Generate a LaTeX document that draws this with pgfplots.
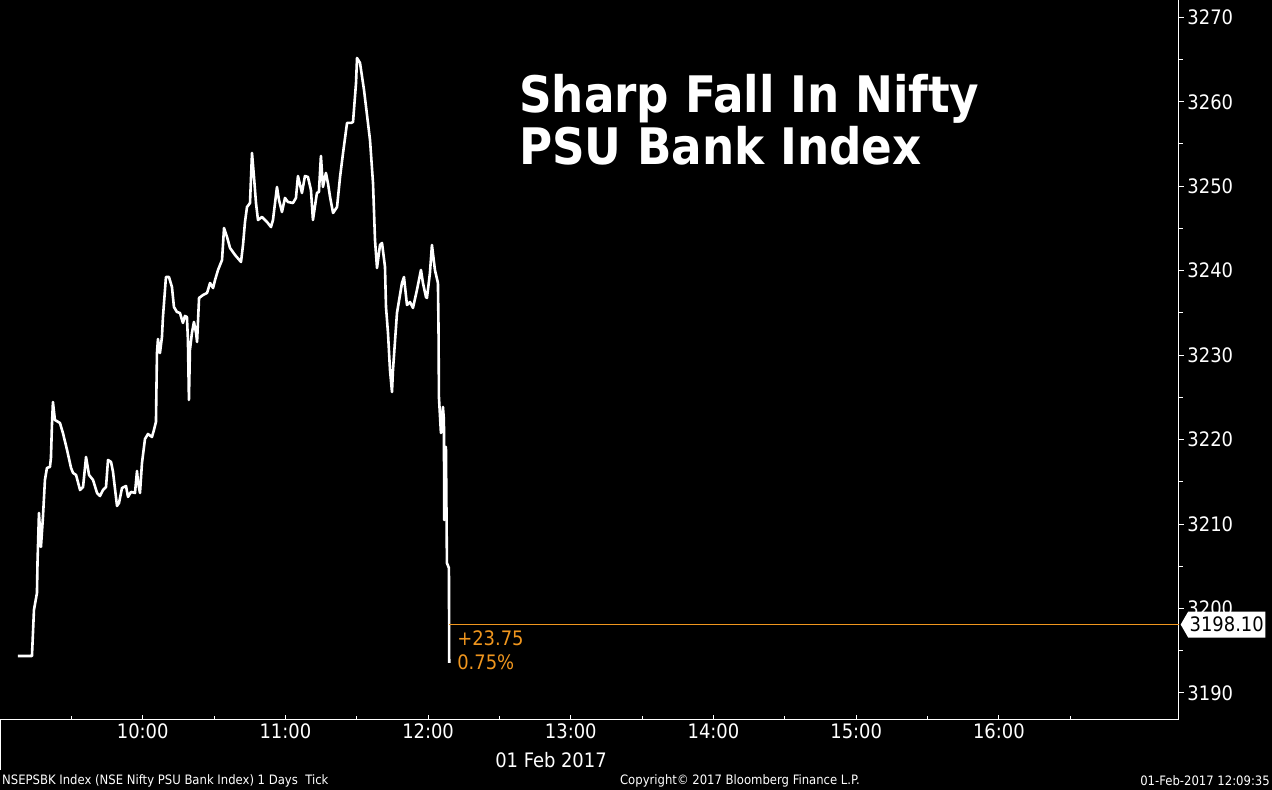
\documentclass[border=0pt]{standalone}
\usepackage{fontspec}
\setmainfont{DejaVu Sans Condensed}
\usepackage{pgfplots}
\pgfplotsset{compat=1.18}
\usetikzlibrary{shapes.symbols}
\definecolor{bbgorange}{RGB}{240,150,30}

\begin{document}
\begin{tikzpicture}[x=1bp,y=1bp]
\fill[black] (0,0) rectangle (1272,790);
\useasboundingbox (0,0) rectangle (1272,790);
\begin{axis}[
    at={(0bp,70bp)}, anchor=south west,
    width=1179bp, height=720bp, scale only axis,
    xmin=9.0, xmax=17.262,
    ymin=3186.8, ymax=3272.05,
    axis x line=bottom, axis y line=right,
    axis line style={white, line width=1bp, -},
    xtick align=inside, ytick align=outside,
    major tick length=5bp, minor tick length=4bp,
    tick style={white, line width=1bp},
    xtick={10,11,...,16},
    xticklabels={10:00,11:00,12:00,13:00,14:00,15:00,16:00},
    minor xtick={9.5,10.5,...,16.5},
    ytick={3190,3200,...,3270},
    minor ytick={3195,3205,...,3265},
    xticklabel style={text=white, font=\fontsize{20}{20}\selectfont},
    yticklabel style={text=white, font=\fontsize{20}{20}\selectfont},
    /pgf/number format/.cd, set thousands separator={}, assume math mode=true,
]
% intraday ticks
\addplot[white, line width=2.6bp, line join=round] coordinates {
(9.126,3194.38) (9.224,3194.38) (9.231,3197.10) (9.238,3199.83) (9.259,3201.84)
(9.263,3205.51) (9.273,3211.31) (9.287,3207.29) (9.301,3210.84) (9.315,3215.22)
(9.329,3216.64) (9.350,3216.76) (9.357,3217.82) (9.364,3221.73) (9.371,3224.45)
(9.385,3222.32) (9.420,3221.97) (9.441,3220.78) (9.470,3218.77) (9.498,3216.64)
(9.512,3216.05) (9.533,3215.81) (9.561,3214.03) (9.582,3214.39) (9.603,3217.94)
(9.624,3215.81) (9.652,3215.22) (9.680,3213.68) (9.701,3213.32) (9.722,3214.03)
(9.743,3214.39) (9.757,3217.59) (9.778,3217.35) (9.792,3216.17) (9.820,3212.14)
(9.834,3212.49) (9.855,3214.27) (9.883,3214.51) (9.897,3213.21) (9.918,3213.80)
(9.946,3213.68) (9.960,3216.28) (9.967,3214.98) (9.981,3213.68) (9.995,3217.23)
(10.016,3220.07) (10.037,3220.66) (10.065,3220.31) (10.079,3221.14) (10.093,3222.09)
(10.100,3230.25) (10.107,3231.91) (10.121,3230.25) (10.135,3232.15) (10.142,3234.52)
(10.163,3239.25) (10.184,3239.25) (10.205,3238.07) (10.219,3235.70) (10.240,3235.11)
(10.261,3234.99) (10.282,3233.81) (10.296,3234.64) (10.310,3234.52) (10.317,3231.79)
(10.324,3224.69) (10.331,3230.61) (10.345,3232.62) (10.359,3233.93) (10.374,3232.62)
(10.381,3231.56) (10.395,3236.77) (10.423,3237.12) (10.451,3237.36) (10.472,3238.54)
(10.493,3237.95) (10.507,3238.90) (10.528,3240.08) (10.556,3241.27) (10.570,3245.05)
(10.591,3243.99) (10.612,3242.69) (10.647,3241.86) (10.689,3241.03) (10.703,3243.04)
(10.717,3245.77) (10.731,3247.54) (10.752,3248.01) (10.766,3253.93) (10.780,3251.09)
(10.794,3248.01) (10.808,3246.00) (10.836,3246.36) (10.871,3245.77) (10.899,3245.17)
(10.913,3246.00) (10.941,3249.91) (10.955,3248.37) (10.976,3246.95) (10.997,3248.61)
(11.018,3248.13) (11.053,3248.01) (11.074,3248.61) (11.088,3251.21) (11.116,3249.20)
(11.137,3251.21) (11.158,3251.09) (11.179,3249.55) (11.193,3246.00) (11.221,3249.20)
(11.235,3249.32) (11.249,3253.58) (11.263,3249.91) (11.284,3251.57) (11.298,3250.38)
(11.313,3248.73) (11.334,3246.83) (11.362,3247.54) (11.383,3251.09) (11.404,3253.93)
(11.432,3257.49) (11.460,3257.49) (11.474,3257.61) (11.495,3262.22) (11.502,3265.18)
(11.523,3264.59) (11.551,3261.39) (11.593,3255.47) (11.614,3250.38) (11.628,3243.63)
(11.642,3240.32) (11.663,3243.04) (11.677,3243.28) (11.698,3240.44) (11.705,3235.70)
(11.719,3232.62) (11.733,3228.24) (11.747,3225.64) (11.754,3228.24) (11.782,3234.99)
(11.817,3238.54) (11.831,3239.25) (11.852,3235.94) (11.873,3236.29) (11.894,3235.58)
(11.922,3237.71) (11.950,3240.08) (11.964,3238.54) (11.985,3236.89) (11.992,3236.77)
(12.013,3239.73) (12.027,3243.04) (12.048,3240.08) (12.069,3238.54) (12.073,3233.33)
(12.076,3225.05) (12.090,3220.78) (12.104,3223.86) (12.111,3222.32) (12.113,3210.48)
(12.125,3219.13) (12.132,3205.39) (12.146,3204.80) (12.148,3193.55)
};
% last price line
\addplot[bbgorange, line width=0.8bp] coordinates {(12.148,3198.1) (17.262,3198.1)};
\node[anchor=west, text=bbgorange, font=\fontsize{20}{20}\selectfont, inner sep=0pt]
    at (axis cs:12.203,3196.5) {+23.75};
\node[anchor=west, text=bbgorange, font=\fontsize{20}{20}\selectfont, inner sep=0pt]
    at (axis cs:12.203,3193.67) {0.75\%};
\coordinate (last) at (axis cs:17.262,3198.1);
\end{axis}
\node[signal, signal to=west, signal pointer angle=120, fill=white, text=black, anchor=west,
      font=\fontsize{20}{20}\selectfont, minimum height=26bp, inner xsep=1.5bp, inner ysep=2bp]
    at ([xshift=1.5bp]last) {3198.10};
\node[anchor=base west, text=white, inner sep=0pt, font=\bfseries\fontsize{50.5}{50.5}\selectfont]
    at (519,677) {Sharp Fall In Nifty};
\node[anchor=base west, text=white, inner sep=0pt, font=\bfseries\fontsize{50.5}{50.5}\selectfont]
    at (519,625) {PSU Bank Index};
\node[text=white, font=\fontsize{20}{20}\selectfont] at (551,30) {01 Feb 2017};
\draw[white, line width=1bp] (0.5,20) -- (0.5,70);
\node[anchor=west, text=white, inner sep=0pt, font=\fontsize{13}{13}\selectfont]
    at (2,9) {NSEPSBK Index (NSE Nifty PSU Bank Index) 1 Days\ \ Tick};
\node[text=white, inner sep=0pt, font=\fontsize{13}{13}\selectfont]
    at (740,9) {Copyright© 2017 Bloomberg Finance L.P.};
\node[anchor=east, text=white, inner sep=0pt, font=\fontsize{13}{13}\selectfont]
    at (1270,9) {01-Feb-2017 12:09:35};
\end{tikzpicture}
\end{document}
